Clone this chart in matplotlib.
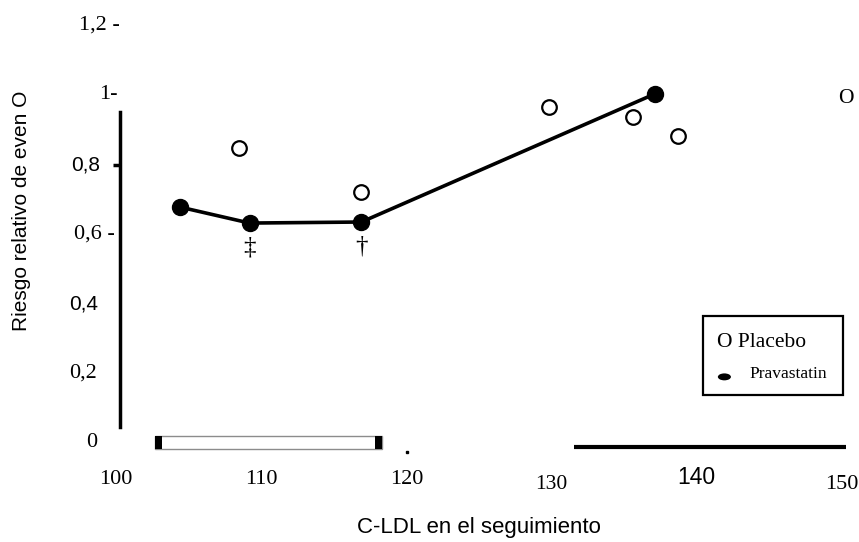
import matplotlib

matplotlib.use("Agg")
import matplotlib.pyplot as plt
from matplotlib.patches import Rectangle, Ellipse

# Pravastatin: filled dots joined by a line
prava_ldl = [104.4, 109.2, 116.9, 137.1]
prava_rr = [0.678, 0.632, 0.635, 1.003]
prava_marks = ["", "‡", "†", ""]

# Placebo: open circles
placebo_ldl = [108.5, 116.9, 129.8, 135.6, 138.7]
placebo_rr = [0.848, 0.721, 0.966, 0.937, 0.882]

y_ticks = [1.2, 1.0, 0.8, 0.6, 0.4, 0.2, 0.0]
y_tick_labels = ["1,2 -", "1-", "0,8", "0,6 -", "0,4", "0,2", "0"]
x_ticks = [100, 110, 120, 130, 140, 150]
x_tick_labels = ["100", "110", "120", "130", "140", "150"]

SERIF = "Liberation Serif"
SANS = "Liberation Sans"

fig = plt.figure(figsize=(8.59, 5.42), dpi=100)
ax = fig.add_axes([0.13504, 0.18266, 0.84517, 0.77048])
ax.set_xlim(100, 150)
ax.set_ylim(0, 1.2)
ax.set_xticks([])
ax.set_yticks([])
for side in ["top", "right", "bottom"]:
    ax.spines[side].set_visible(False)
ax.spines["left"].set_position(("data", 100.3))
ax.spines["left"].set_bounds(0.046, 0.951)
ax.spines["left"].set_linewidth(2.5)

# y tick labels (scanned look: mixed fonts, uneven offsets)
y_fonts = [SERIF, SERIF, SANS, SERIF, SANS, SERIF, SERIF]
y_sizes = [16, 16, 15, 16, 15, 16, 16]
y_right = [100.28, 100.14, 98.9, 99.93, 98.76, 98.69, 98.69]
for val, lab, fam, fs, xr in zip(y_ticks, y_tick_labels, y_fonts, y_sizes, y_right):
    ax.text(xr, val, lab, ha="right", va="center", family=fam,
            fontsize=fs, clip_on=False)
ax.plot([99.79, 100.3], [0.8, 0.8], color="black", lw=2.5,
        solid_capstyle="butt", clip_on=False)

# x tick labels
x_fonts = [SERIF, SERIF, SERIF, SERIF, SANS, SERIF]
x_sizes = [16, 16, 16, 15.5, 16.5, 16]
x_y = [-0.106, -0.106, -0.106, -0.12, -0.10, -0.12]
for val, lab, fam, fs, yy in zip(x_ticks, x_tick_labels, x_fonts, x_sizes, x_y):
    ax.text(val, yy, lab, ha="center", va="center", family=fam,
            fontsize=fs, clip_on=False)

# broken x axis: hollow bar with black caps, stray dot, thick line
ax.add_patch(Rectangle((102.69, -0.017), 118.32 - 102.69, 0.037,
                       facecolor="white", edgecolor="#8c8c8c", lw=1.0,
                       clip_on=False))
ax.add_patch(Rectangle((102.69, -0.017), 0.48, 0.037, facecolor="black",
                       edgecolor="none", clip_on=False))
ax.add_patch(Rectangle((117.84, -0.017), 0.48, 0.037, facecolor="black",
                       edgecolor="none", clip_on=False))
ax.plot([120.04], [-0.026], marker="s", ms=1.5, color="black", clip_on=False)
ax.plot([131.54, 150.28], [-0.0115, -0.0115], color="black", lw=3,
        solid_capstyle="butt", clip_on=False)

# data
ax.plot(prava_ldl, prava_rr, color="black", lw=2.6, marker="o", ms=11.5,
        markerfacecolor="black", markeredgecolor="black", clip_on=False,
        zorder=3)
ax.plot(placebo_ldl, placebo_rr, linestyle="none", marker="o", ms=10.5,
        markerfacecolor="white", markeredgecolor="black", mew=1.6,
        clip_on=False, zorder=3)
for x, y, m in zip(prava_ldl, prava_rr, prava_marks):
    if m:
        ax.text(x, y - 0.07, m, ha="center", va="center", family=SERIF,
                fontsize=18)
ax.text(150.3, 0.989, "O", ha="center", va="center", family=SERIF,
        fontsize=15.5, clip_on=False)

# legend box drawn by hand
ax.add_patch(Rectangle((140.45, 0.138), 143.0 - 140.45 + 7.1, 0.365 - 0.138,
                       facecolor="white", edgecolor="black", lw=1.6,
                       clip_on=False, zorder=4))
ax.text(141.37, 0.290, "O Placebo", ha="left", va="center", family=SERIF,
        fontsize=15.5, zorder=5)
ax.add_patch(Ellipse((141.9, 0.190), 0.9, 0.02, facecolor="black",
                     edgecolor="none", zorder=5))
ax.text(143.65, 0.198, "Pravastatin", ha="left", va="center", family=SERIF,
        fontsize=12.5, zorder=5)

fig.text(22 / 859, 1 - 211 / 542, "Riesgo relativo de even O", rotation=90,
         ha="center", va="center", family=SANS, fontsize=15)
fig.text(479 / 859, 1 - 528 / 542, "C-LDL en el seguimiento", ha="center",
         va="center", family=SANS, fontsize=16)

plt.savefig("out.png", dpi=100)
plt.close()
